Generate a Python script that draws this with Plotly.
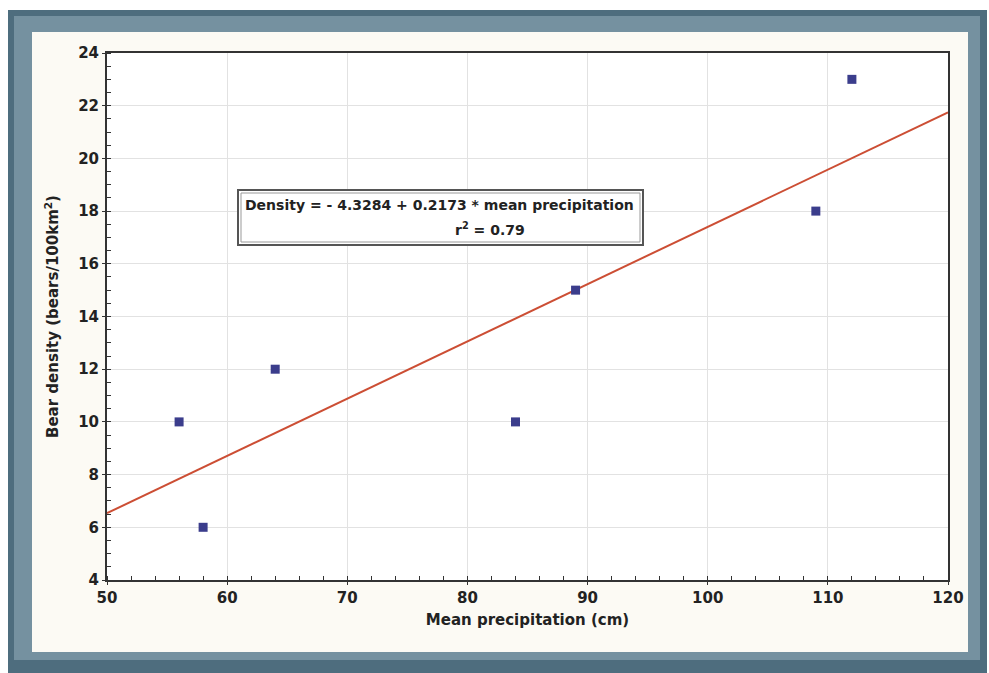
import plotly.graph_objects as go

precip = [56, 58, 64, 84, 89, 109, 112]
density = [10, 6, 12, 10, 15, 18, 23]
fit_x = [50, 120]
intercept = -4.3284
slope = 0.2173
fit_y = [intercept + slope * v for v in fit_x]
x_ticks = [50, 60, 70, 80, 90, 100, 110, 120]
y_ticks = [4, 6, 8, 10, 12, 14, 16, 18, 20, 22, 24]

W, H = 989, 673
L, R, T, B = 107, 41, 53, 93
pw, ph = W - L - R, H - T - B
FONT = "DejaVu Sans, Liberation Sans, Arial"

def px(x):
    return (x - L) / pw

def py(y):
    return (H - B - y) / ph

fig = go.Figure()
fig.add_trace(go.Scatter(x=fit_x, y=fit_y, mode="lines",
                         line=dict(color="#cc4e34", width=2), hoverinfo="skip"))
fig.add_trace(go.Scatter(x=precip, y=density, mode="markers",
                         marker=dict(symbol="square", size=9, color="#3b3d8c",
                                     line=dict(width=0))))

shapes = [
    dict(type="rect", xref="paper", yref="paper", x0=px(8), x1=px(987), y0=py(10), y1=py(673),
         fillcolor="#4e6d7e", line=dict(width=0), layer="below"),
    dict(type="rect", xref="paper", yref="paper", x0=px(14), x1=px(980), y0=py(16), y1=py(660),
         fillcolor="#7591a0", line=dict(width=0), layer="below"),
    dict(type="rect", xref="paper", yref="paper", x0=px(32), x1=px(968), y0=py(32), y1=py(652),
         fillcolor="#fcfaf4", line=dict(width=0), layer="below"),
    dict(type="rect", xref="paper", yref="paper", x0=0, x1=1, y0=0, y1=1,
         fillcolor="#ffffff", line=dict(width=0), layer="below"),
    dict(type="rect", xref="paper", yref="paper", x0=px(238), x1=px(643), y0=py(190), y1=py(245),
         fillcolor="#ffffff", line=dict(color="#555555", width=2), layer="above"),
    dict(type="rect", xref="paper", yref="paper", x0=px(241), x1=px(640), y0=py(193), y1=py(242),
         fillcolor="rgba(0,0,0,0)", line=dict(color="#999999", width=1), layer="above"),
]

annotations = [
    dict(xref="paper", yref="paper", x=px(439), y=py(205), xanchor="center", yanchor="middle",
         text="<b>Density = - 4.3284 + 0.2173 * mean precipitation</b>",
         showarrow=False, font=dict(family=FONT, size=14, color="#222222")),
    dict(xref="paper", yref="paper", x=px(490), y=py(229), xanchor="center", yanchor="middle",
         text="<b>r<sup>2</sup> = 0.79</b>",
         showarrow=False, font=dict(family=FONT, size=14, color="#222222")),
]

axis_common = dict(showline=True, linecolor="#333333", linewidth=2, mirror=True,
                   showgrid=True, gridcolor="#e2e2e2", gridwidth=1, zeroline=False,
                   ticks="outside", ticklen=3, tickcolor="#333333",
                   tickfont=dict(family=FONT, size=15, color="#222222"))

fig.update_layout(
    width=W, height=H,
    margin=dict(l=L, r=R, t=T, b=B),
    paper_bgcolor="#ffffff",
    plot_bgcolor="rgba(0,0,0,0)",
    showlegend=False,
    shapes=shapes,
    annotations=annotations,
    xaxis=dict(range=[50, 120], tickvals=x_ticks, ticktext=[f"<b>{v}</b>" for v in x_ticks],
               minor=dict(dtick=2, ticks="inside", ticklen=4, tickcolor="#333333", showgrid=False),
               title=dict(text="<b>Mean precipitation (cm)</b>", standoff=8,
                          font=dict(family=FONT, size=15, color="#222222")),
               **axis_common),
    yaxis=dict(range=[4, 24], tickvals=y_ticks, ticktext=[f"<b>{v}</b>" for v in y_ticks],
               minor=dict(dtick=0.5, ticks="inside", ticklen=4, tickcolor="#333333", showgrid=False),
               title=dict(text="<b>Bear density (bears/100km<sup>2</sup>)</b>", standoff=16,
                          font=dict(family=FONT, size=15, color="#222222")),
               **axis_common),
)

fig.write_html("out.html")
